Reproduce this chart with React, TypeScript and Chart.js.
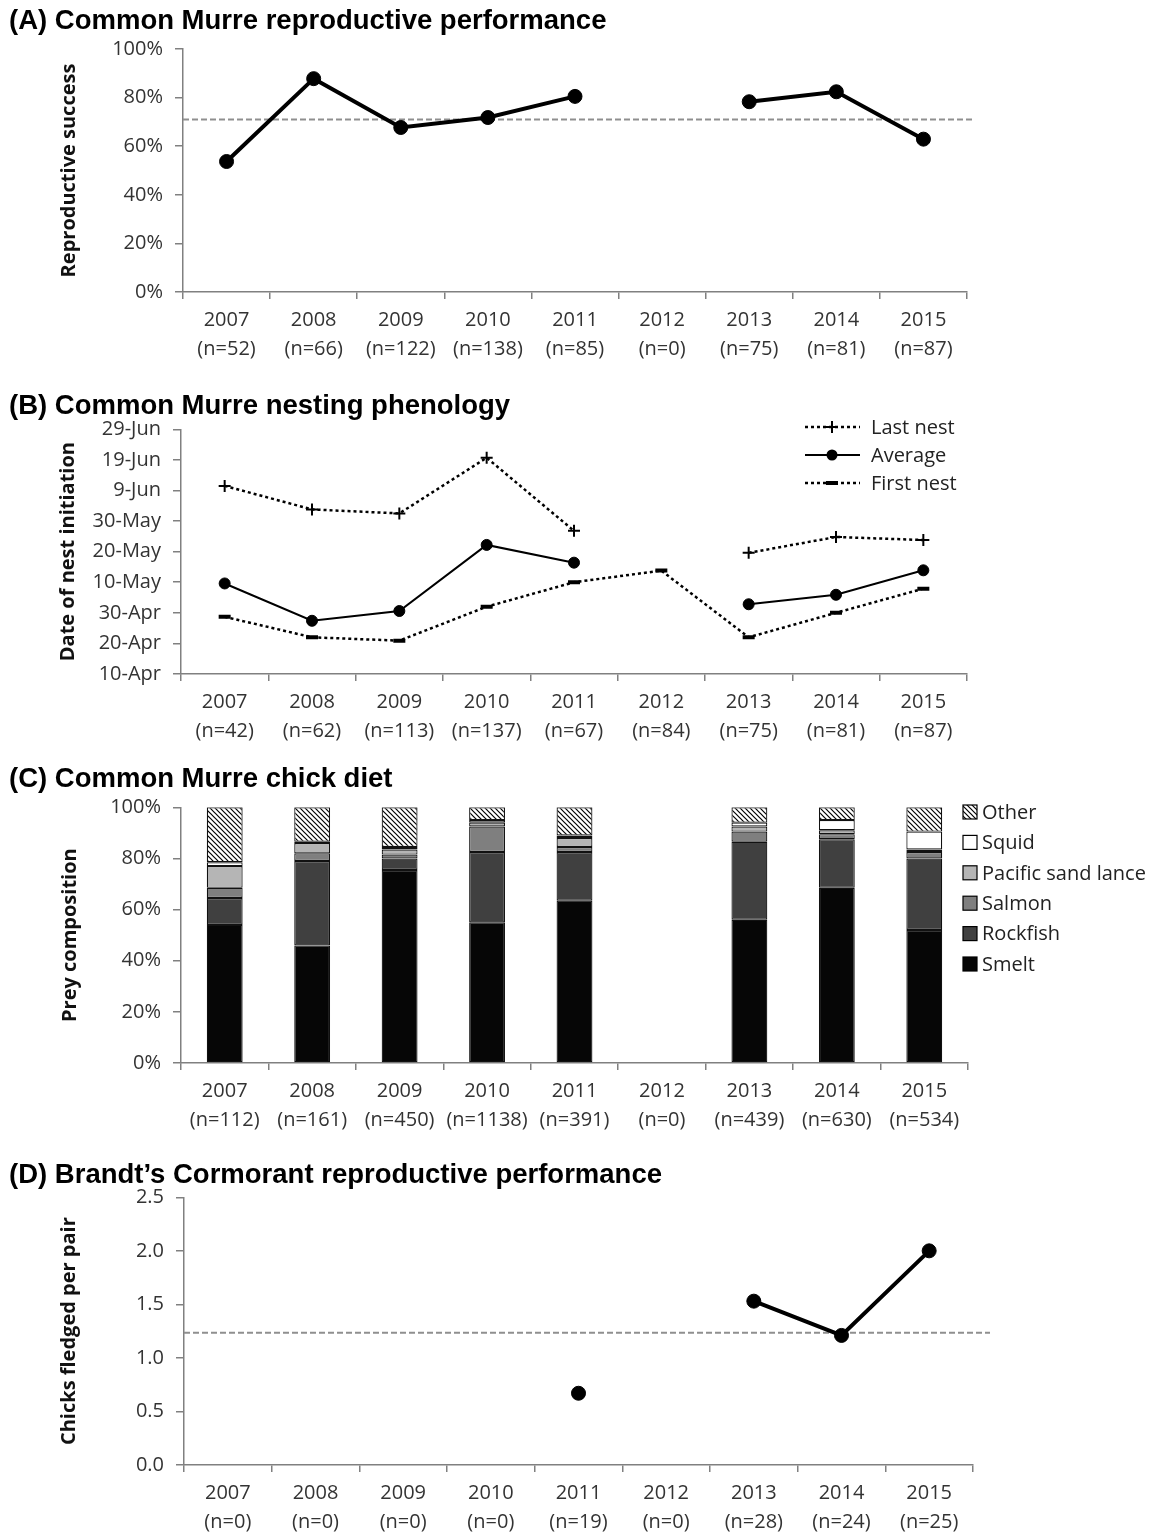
import React, { useEffect, useRef } from 'react';
import { Chart, registerables } from 'chart.js';

Chart.register(...registerables);

// ---------------- DATA ----------------
const years = ['2007', '2008', '2009', '2010', '2011', '2012', '2013', '2014', '2015'];

// (A) Common Murre reproductive success (%)
const nA = ['52', '66', '122', '138', '85', '0', '75', '81', '87'];
const successA: (number | null)[] = [53.7, 87.8, 67.7, 71.8, 80.5, null, 78.3, 82.4, 62.9];
const meanA = 71.0;

// (B) Common Murre nesting phenology (day of year; 100 = 10-Apr, 180 = 29-Jun)
const nB = ['42', '62', '113', '137', '67', '84', '75', '81', '87'];
const lastNest: (number | null)[] = [161.5, 153.8, 152.5, 170.7, 146.8, null, 139.6, 144.8, 143.8];
const avgNest: (number | null)[] = [129.6, 117.4, 120.6, 142.2, 136.4, null, 122.8, 125.9, 133.9];
const firstNest: (number | null)[] = [118.7, 112.0, 110.9, 122.0, 130.0, 133.8, 112.0, 120.0, 127.9];

// (C) Common Murre chick diet (% of prey)
const nC = ['112', '161', '450', '1138', '391', '0', '439', '630', '534'];
const smelt: (number | null)[] = [54, 46, 75.5, 55, 63.5, null, 56, 68.5, 52];
const rockfish: (number | null)[] = [10.5, 33, 4.5, 27.5, 19, null, 30.5, 19, 28];
const salmon: (number | null)[] = [4, 3, 1.5, 10, 2, null, 4, 2, 2.5];
const sandLance: (number | null)[] = [8.5, 4, 2, 1.5, 3.5, null, 2, 1.5, 1];
const squid: (number | null)[] = [1.5, 0.5, 1, 1, 1, null, 1.5, 4, 7];
const other: (number | null)[] = [21.5, 13.5, 15.5, 5, 11, null, 6, 5, 9.5];

// (D) Brandt's Cormorant chicks fledged per pair
const nD = ['0', '0', '0', '0', '19', '0', '28', '24', '25'];
const fledged: (number | null)[] = [null, null, null, null, 0.67, null, 1.53, 1.21, 2.0];
const meanD = 1.235;

// ---------------- STYLE ----------------
const AXIS = '#808080';
const TICK = '#333333';
const FONT = 'Open Sans';
const MONTHS = ['Jan', 'Feb', 'Mar', 'Apr', 'May', 'Jun', 'Jul', 'Aug', 'Sep', 'Oct', 'Nov', 'Dec'];
const MDAYS = [31, 28, 31, 30, 31, 30, 31, 31, 30, 31, 30, 31];

function dayLabel(doy: number): string {
  let d = Math.round(doy);
  let m = 0;
  while (m < 11 && d > MDAYS[m]) {
    d -= MDAYS[m];
    m++;
  }
  return `${d}-${MONTHS[m]}`;
}

const labelsOf = (n: string[]) => years.map((y, i) => [y, `(n=${n[i]})`]);

function baseOptions(o: any) {
  return {
    responsive: false,
    animation: false,
    devicePixelRatio: 1,
    events: [],
    layout: { padding: { left: 0, top: o.padTop, right: o.padRight, bottom: 0 } },
    plugins: { legend: { display: false }, tooltip: { enabled: false }, title: { display: false } },
    scales: {
      x: {
        type: 'category',
        offset: true,
        stacked: !!o.stacked,
        grid: { display: true, offset: true, drawOnChartArea: false, drawTicks: true, tickLength: 7, color: AXIS, lineWidth: 1.5 },
        border: { display: true, color: AXIS, width: 1.5 },
        ticks: {
          color: TICK,
          font: { family: FONT, size: 20, lineHeight: 1.45 },
          padding: 7,
          maxRotation: 0,
          minRotation: 0,
          autoSkip: false,
        },
        afterFit: (s: any) => {
          s.height = o.xHeight;
          s.paddingLeft = 0;
          s.paddingRight = 0;
        },
      },
      y: {
        min: o.yMin,
        max: o.yMax,
        stacked: !!o.stacked,
        grid: { display: true, drawOnChartArea: false, drawTicks: true, tickLength: 8, color: AXIS, lineWidth: 1.5 },
        border: { display: true, color: AXIS, width: 1.5 },
        ticks: {
          stepSize: o.yStep,
          color: TICK,
          font: { family: FONT, size: 20 },
          padding: 12,
          callback: o.yFmt,
        },
        title: {
          display: true,
          text: o.yTitle,
          color: '#111',
          font: { family: FONT, size: 20, weight: 'bold', lineHeight: 1.2 },
          padding: { top: o.titlePad, bottom: 0 },
        },
        afterFit: (s: any) => {
          s.width = o.yWidth;
          s.paddingTop = 0;
          s.paddingBottom = 0;
        },
      },
    },
  };
}

function refLine(value: number, extendRight: number) {
  return {
    id: 'refLine',
    beforeDatasetsDraw(chart: any) {
      const { ctx, chartArea, scales } = chart;
      const y = scales.y.getPixelForValue(value);
      ctx.save();
      ctx.strokeStyle = '#8f8f8f';
      ctx.lineWidth = 2;
      ctx.setLineDash([6, 3]);
      ctx.beginPath();
      ctx.moveTo(chartArea.left, y);
      ctx.lineTo(chartArea.right + extendRight, y);
      ctx.stroke();
      ctx.restore();
    },
  };
}

function makeHatch(ctx: CanvasRenderingContext2D) {
  const t = document.createElement('canvas');
  t.width = 5;
  t.height = 5;
  const g = t.getContext('2d')!;
  g.fillStyle = '#fff';
  g.fillRect(0, 0, 5, 5);
  g.strokeStyle = '#000';
  g.lineWidth = 1.2;
  g.beginPath();
  g.moveTo(-1, -1);
  g.lineTo(6, 6);
  g.moveTo(4, -1);
  g.lineTo(6, 1);
  g.moveTo(-1, 4);
  g.lineTo(1, 6);
  g.stroke();
  return ctx.createPattern(t, 'repeat')!;
}

// ---------------- CHART BUILDERS ----------------
function buildA() {
  return {
    type: 'line',
    data: {
      labels: labelsOf(nA),
      datasets: [
        {
          label: 'Reproductive success',
          data: successA,
          borderColor: '#000',
          backgroundColor: '#000',
          borderWidth: 4,
          pointRadius: 7,
          pointBackgroundColor: '#000',
          pointBorderColor: '#000',
          pointBorderWidth: 1,
          spanGaps: false,
          tension: 0,
        },
      ],
    },
    options: baseOptions({
      padTop: 19, padRight: 183, xHeight: 70, yWidth: 183, titlePad: 57,
      yMin: 0, yMax: 100, yStep: 20, yFmt: (v: any) => `${v}%`, yTitle: 'Reproductive success',
    }),
    plugins: [refLine(meanA, 6)],
  };
}

function buildB() {
  const legendB = {
    id: 'legendB',
    afterDraw(chart: any) {
      const ctx: CanvasRenderingContext2D = chart.ctx;
      const items = [
        { label: 'Last nest', dash: true, marker: 'cross', y: 17 },
        { label: 'Average', dash: false, marker: 'circle', y: 45 },
        { label: 'First nest', dash: true, marker: 'line', y: 73 },
      ];
      const x0 = 805, x1 = 860, xm = 832;
      items.forEach((it) => {
        ctx.save();
        ctx.strokeStyle = '#000';
        ctx.lineWidth = it.dash ? 2.5 : 2;
        ctx.setLineDash(it.dash ? [3, 3] : []);
        ctx.beginPath();
        ctx.moveTo(x0, it.y);
        ctx.lineTo(x1, it.y);
        ctx.stroke();
        ctx.setLineDash([]);
        ctx.fillStyle = '#000';
        if (it.marker === 'cross') {
          ctx.lineWidth = 2;
          ctx.beginPath();
          ctx.moveTo(xm - 6, it.y);
          ctx.lineTo(xm + 6, it.y);
          ctx.moveTo(xm, it.y - 6);
          ctx.lineTo(xm, it.y + 6);
          ctx.stroke();
        } else if (it.marker === 'circle') {
          ctx.beginPath();
          ctx.arc(xm, it.y, 5.5, 0, Math.PI * 2);
          ctx.fill();
        } else {
          ctx.fillRect(xm - 6, it.y - 2, 12, 4);
        }
        ctx.font = `20px "${FONT}"`;
        ctx.fillStyle = '#222';
        ctx.textBaseline = 'middle';
        ctx.textAlign = 'left';
        ctx.fillText(it.label, 871, it.y + 1);
        ctx.restore();
      });
    },
  };
  return {
    type: 'line',
    data: {
      labels: labelsOf(nB),
      datasets: [
        {
          label: 'Last nest',
          data: lastNest,
          borderColor: '#000',
          borderWidth: 2.5,
          borderDash: [3, 3],
          pointStyle: 'cross',
          pointRadius: 6,
          pointBorderWidth: 2,
          pointBorderColor: '#000',
          spanGaps: false,
          tension: 0,
        },
        {
          label: 'Average',
          data: avgNest,
          borderColor: '#000',
          borderWidth: 2,
          pointStyle: 'circle',
          pointRadius: 5.5,
          pointBackgroundColor: '#000',
          pointBorderColor: '#000',
          pointBorderWidth: 1,
          spanGaps: false,
          tension: 0,
        },
        {
          label: 'First nest',
          data: firstNest,
          borderColor: '#000',
          borderWidth: 2.5,
          borderDash: [3, 3],
          pointStyle: 'line',
          pointRadius: 6,
          pointBorderWidth: 4,
          pointBorderColor: '#000',
          spanGaps: false,
          tension: 0,
        },
      ],
    },
    options: baseOptions({
      padTop: 19.3, padRight: 183, xHeight: 70, yWidth: 181, titlePad: 56,
      yMin: 100, yMax: 180, yStep: 10, yFmt: (v: any) => dayLabel(Number(v)), yTitle: 'Date of nest initiation',
    }),
    plugins: [legendB],
  };
}

function buildC(canvas: HTMLCanvasElement) {
  const hatch = makeHatch(canvas.getContext('2d')!);
  const series = [
    { label: 'Smelt', data: smelt, color: '#060606' as any },
    { label: 'Rockfish', data: rockfish, color: '#404040' as any },
    { label: 'Salmon', data: salmon, color: '#7f7f7f' as any },
    { label: 'Pacific sand lance', data: sandLance, color: '#b5b5b5' as any },
    { label: 'Squid', data: squid, color: '#ffffff' as any },
    { label: 'Other', data: other, color: hatch as any },
  ];
  const legendC = {
    id: 'legendC',
    afterDraw(chart: any) {
      const ctx: CanvasRenderingContext2D = chart.ctx;
      const rev = series.slice().reverse();
      rev.forEach((s, i) => {
        const cy = 24 + i * 30.4;
        ctx.save();
        ctx.fillStyle = s.color;
        ctx.fillRect(963, cy - 7, 14, 14);
        ctx.strokeStyle = '#000';
        ctx.lineWidth = 1.2;
        ctx.strokeRect(963, cy - 7, 14, 14);
        ctx.font = `20px "${FONT}"`;
        ctx.fillStyle = '#222';
        ctx.textBaseline = 'middle';
        ctx.textAlign = 'left';
        ctx.fillText(s.label, 982, cy + 1);
        ctx.restore();
      });
    },
  };
  return {
    type: 'bar',
    data: {
      labels: labelsOf(nC),
      datasets: series.map((s) => ({
        label: s.label,
        data: s.data,
        backgroundColor: s.color,
        borderColor: '#111',
        borderWidth: 1.2,
        borderSkipped: false,
        barPercentage: 0.41,
        categoryPercentage: 1,
      })),
    },
    options: baseOptions({
      padTop: 19.3, padRight: 182, xHeight: 70, yWidth: 181, titlePad: 58, stacked: true,
      yMin: 0, yMax: 100, yStep: 20, yFmt: (v: any) => `${v}%`, yTitle: 'Prey composition',
    }),
    plugins: [legendC],
  };
}

function buildD() {
  return {
    type: 'line',
    data: {
      labels: labelsOf(nD),
      datasets: [
        {
          label: 'Chicks fledged per pair',
          data: fledged,
          borderColor: '#000',
          backgroundColor: '#000',
          borderWidth: 4,
          pointRadius: 7,
          pointBackgroundColor: '#000',
          pointBorderColor: '#000',
          pointBorderWidth: 1,
          spanGaps: false,
          tension: 0,
        },
      ],
    },
    options: baseOptions({
      padTop: 19.3, padRight: 177, xHeight: 68, yWidth: 184, titlePad: 57,
      yMin: 0, yMax: 2.5, yStep: 0.5, yFmt: (v: any) => Number(v).toFixed(1), yTitle: 'Chicks fledged per pair',
    }),
    plugins: [refLine(meanD, 17)],
  };
}

// ---------------- COMPONENTS ----------------
function ChartCanvas({ top, height, build }: { top: number; height: number; build: (c: HTMLCanvasElement) => any }) {
  const ref = useRef<HTMLCanvasElement>(null);
  useEffect(() => {
    const c = ref.current!;
    const chart = new Chart(c, build(c));
    return () => chart.destroy();
  }, []);
  return (
    <canvas
      ref={ref}
      width={1150}
      height={height}
      style={{ position: 'absolute', left: 0, top, width: 1150, height, display: 'block' }}
    />
  );
}

const titles = [
  { text: '(A) Common Murre reproductive performance', y: 20 },
  { text: '(B) Common Murre nesting phenology', y: 405 },
  { text: '(C) Common Murre chick diet', y: 778 },
  { text: '(D) Brandt\u2019s Cormorant reproductive performance', y: 1174 },
];

export default function App() {
  return (
    <div
      style={{
        position: 'absolute',
        left: 0,
        top: 0,
        width: 1150,
        height: 1534,
        overflow: 'hidden',
        background: '#fff',
      }}
    >
      <ChartCanvas top={30} height={332} build={buildA} />
      <ChartCanvas top={410} height={334} build={buildB} />
      <ChartCanvas top={788} height={345} build={buildC} />
      <ChartCanvas top={1178} height={355} build={buildD} />
      {titles.map((t) => (
        <div
          key={t.text}
          style={{
            position: 'absolute',
            left: 9,
            top: t.y - 14,
            height: 28,
            lineHeight: '28px',
            fontFamily: '"Liberation Sans", Arial, sans-serif',
            fontWeight: 'bold',
            fontSize: 27.5,
            color: '#000',
            whiteSpace: 'nowrap',
            zIndex: 2,
          }}
        >
          {t.text}
        </div>
      ))}
    </div>
  );
}
